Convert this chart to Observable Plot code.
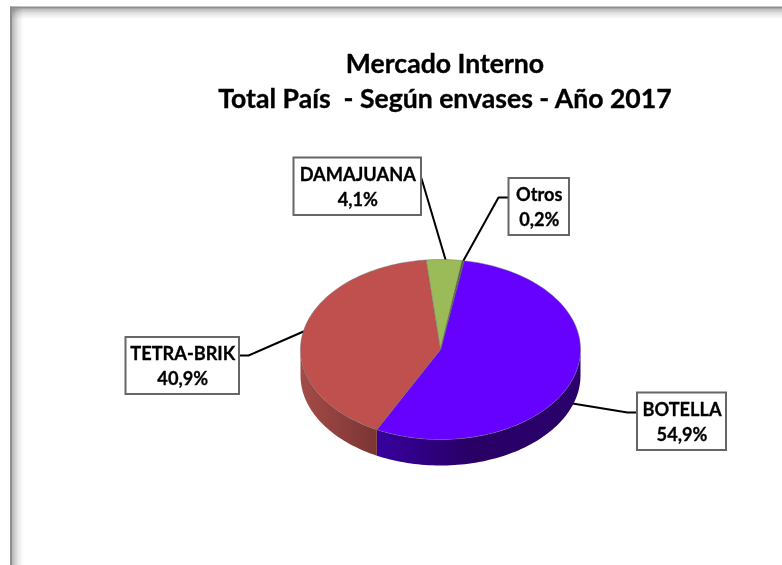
<!DOCTYPE html>
<html>
<head>
<meta charset="utf-8">
<script src="https://cdn.jsdelivr.net/npm/d3@7"></script>
<script src="https://cdn.jsdelivr.net/npm/@observablehq/plot@0.6"></script>
<style>
html,body{margin:0;padding:0;background:#fff;overflow:hidden}
svg{display:block}
</style>
</head>
<body>
<div id="chart"></div>
<script>
const categories = ["BOTELLA", "TETRA-BRIK", "DAMAJUANA", "Otros"];
const shares = [54.9, 40.9, 4.1, 0.2];
const shareLabels = ["54,9%", "40,9%", "4,1%", "0,2%"];
const sliceColors = ["#6600FF", "#C0504D", "#9BBB59", "#4F6228"];
const titleLines = ["Mercado Interno", "Total País  - Según envases - Año 2017"];

// Layout (page-pixel scale, no chart values)
const W = 782, H = 565;
const pie = {cx: 440, cy: 349, rx: 140, ry: 90, depth: 26, start: 9.6};
const boxes = [
  {x1: 637, x2: 726, y1: 392.5, y2: 450},
  {x1: 125.5, x2: 239, y1: 337, y2: 394},
  {x1: 293.5, x2: 421, y1: 157.5, y2: 215},
  {x1: 508.5, x2: 569, y1: 178, y2: 235}
];
const leaders = [
  [[637,412],[627,412],[572,403]],
  [[239,355],[248,355],[303,331]],
  [[421,178],[445,259]],
  [[508,197],[498,197],[463,260]]
];

// Slices
const total = d3.sum(shares);
let acc = pie.start;
const slices = categories.map((name, i) => {
  const a0 = acc; acc += shares[i] / total * 360;
  return {name, a0, a1: acc, color: sliceColors[i], label: shareLabels[i], box: boxes[i]};
});
const pt = (deg, dy = 0) => {
  const r = deg * Math.PI / 180;
  return {x: pie.cx + pie.rx * Math.sin(r), y: pie.cy - pie.ry * Math.cos(r) + dy};
};
const arcPts = (a0, a1, dy = 0) => {
  const n = Math.max(2, Math.ceil((a1 - a0) / 1.5));
  return d3.range(n + 1).map(k => pt(a0 + (a1 - a0) * k / n, dy));
};
const topPoly = s => [{x: pie.cx, y: pie.cy}, ...arcPts(s.a0, s.a1)];
const sidePoly = (a0, a1) => [...arcPts(a0, a1), ...arcPts(a0, a1, pie.depth).reverse()];
const poly = (points, fill, extra = {}) =>
  Plot.line(points, {x: "x", y: "y", fill, stroke: "none", curve: "linear-closed", ...extra});

const defs = () => {
  const d = d3.create("svg:defs");
  const add = (id, attrs, stops) => {
    const g = d.append("linearGradient").attr("id", id).attr("gradientUnits", "userSpaceOnUse");
    Object.entries(attrs).forEach(([k, v]) => g.attr(k, v));
    stops.forEach(([o, c]) => g.append("stop").attr("offset", o).attr("stop-color", c));
  };
  add("sidePurple", {x1: 376, x2: 580, y1: 0, y2: 0}, [[0, "#37009F"], [0.45, "#290066"], [1, "#2A006B"]]);
  add("sideRed", {x1: 300, x2: 376, y1: 0, y2: 0}, [[0, "#A44B48"], [1, "#7B3533"]]);
  add("shadeTop", {x1: 0, x2: 0, y1: 8, y2: 19}, [[0, "#B4B4B4"], [0.5, "#E4E4E4"], [1, "#FFFFFF"]]);
  add("shadeLeft", {x1: 12, x2: 23, y1: 0, y2: 0}, [[0, "#B4B4B4"], [0.5, "#E4E4E4"], [1, "#FFFFFF"]]);
  return d.node();
};

const frame = {left: 10, top: 6.5, thick: 2.2, shade: 11};

const plot = Plot.plot({
  width: W, height: H,
  margin: 0,
  style: {background: "#fff", fontFamily: "Lato, Carlito, sans-serif", whiteSpace: "pre"},
  x: {domain: [0, W], range: [0, W], axis: null},
  y: {domain: [0, H], range: [0, H], axis: null},
  marks: [
    defs,
    // chart-area frame with soft inner shadow
    Plot.rect([{}], {x1: frame.left + frame.thick, x2: frame.left + frame.thick + frame.shade, y1: frame.top, y2: H, fill: "url(#shadeLeft)"}),
    Plot.rect([{}], {x1: frame.left, x2: W, y1: frame.top + frame.thick, y2: frame.top + frame.thick + frame.shade, fill: "url(#shadeTop)", mixBlendMode: "multiply"}),
    Plot.rect([{}], {x1: frame.left, x2: W, y1: frame.top, y2: frame.top + frame.thick, fill: "#8E8E8E"}),
    Plot.rect([{}], {x1: frame.left, x2: frame.left + frame.thick, y1: frame.top, y2: H, fill: "#8E8E8E"}),

    // leader lines
    ...leaders.map(l => Plot.line(l.map(([x, y]) => ({x, y})), {x: "x", y: "y", stroke: "#000", strokeWidth: 2, curve: "linear"})),

    // 3-D rim
    poly(sidePoly(90, slices[0].a1), "url(#sidePurple)"),
    poly(sidePoly(slices[0].a1, 270), "url(#sideRed)"),

    // top face
    ...slices.map(s => poly(topPoly(s), s.color, {stroke: "#6E6E6E", strokeWidth: 0.6, strokeOpacity: 0.8})),

    // callouts
    Plot.rect(slices, {x1: d => d.box.x1, x2: d => d.box.x2, y1: d => d.box.y1, y2: d => d.box.y2, fill: "#fff", stroke: "#666", strokeWidth: 2}),
    Plot.text(slices, {
      x: d => (d.box.x1 + d.box.x2) / 2,
      y: d => (d.box.y1 + d.box.y2) / 2 - 1.2,
      text: d => `${d.name}\n${d.label}`,
      fontSize: 18.2, fontWeight: 700, lineHeight: 1.38, fill: "#000", stroke: "#000", strokeWidth: 0.3
    }),

    // title
    Plot.text(titleLines, {
      x: () => 444.5,
      y: (d, i) => 64 + i * 35,
      text: d => d,
      fontSize: 26.6, fontWeight: 700, fill: "#000", stroke: "#000", strokeWidth: 0.35
    })
  ]
});
document.getElementById("chart").append(plot);
</script>
</body>
</html>
